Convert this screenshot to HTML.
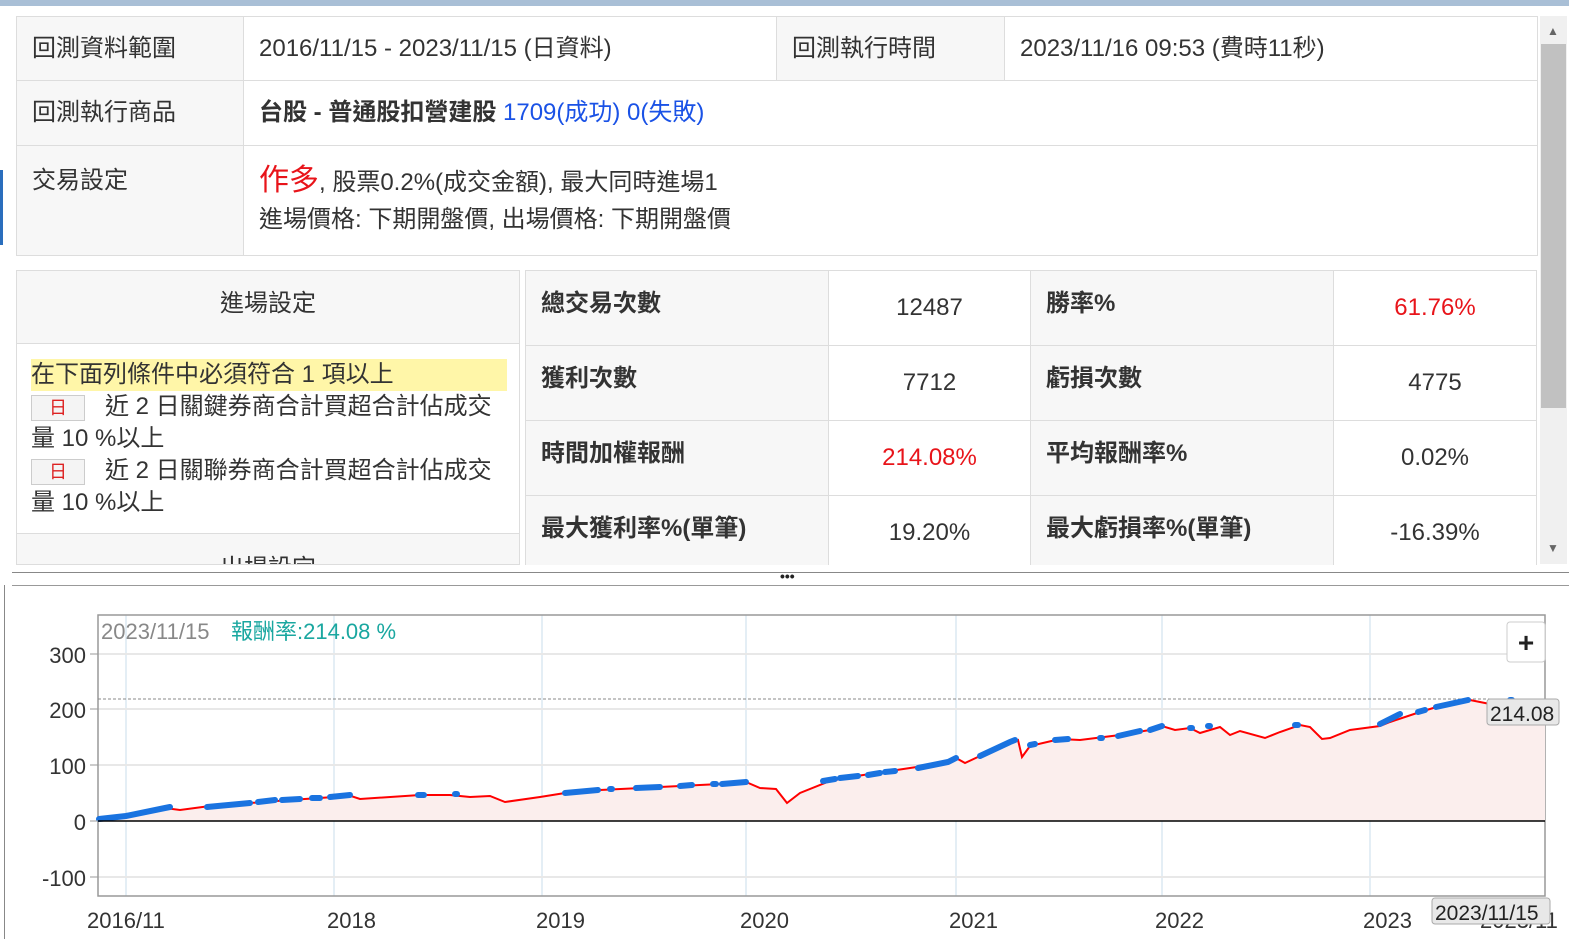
<!DOCTYPE html>
<html><head><meta charset="utf-8"><style>
body{margin:0;width:1569px;height:939px;overflow:hidden;background:#fff;font-family:"Liberation Sans","Noto Sans CJK TC",sans-serif;position:relative;color:#333}
.a{position:absolute;box-sizing:border-box}
.c{position:absolute;box-sizing:border-box;border:1px solid #ddd;font-size:24px;padding-left:15px;white-space:nowrap}
.g{background:#f7f7f7}
</style></head><body>
<div class="a" style="left:0;top:0;width:1569px;height:6px;background:#a9bfd6"></div>
<div class="a" style="left:0;top:170px;width:3px;height:75px;background:#2a6ebd"></div>
<div class="c g" style="left:16px;top:16px;width:228px;height:65px;line-height:64px">回測資料範圍</div>
<div class="c" style="left:243px;top:16px;width:534px;height:65px;line-height:64px">2016/11/15 - 2023/11/15 (日資料)</div>
<div class="c g" style="left:776px;top:16px;width:229px;height:65px;line-height:64px">回測執行時間</div>
<div class="c" style="left:1004px;top:16px;width:534px;height:65px;line-height:64px">2023/11/16 09:53 (費時11秒)</div>
<div class="c g" style="left:16px;top:80px;width:228px;height:66px;line-height:64px">回測執行商品</div>
<div class="c" style="left:243px;top:80px;width:1295px;height:66px;line-height:64px"><b>台股 - 普通股扣營建股</b> <span style="color:#1a52e6">1709(成功) 0(失敗)</span></div>
<div class="c g" style="left:16px;top:145px;width:228px;height:111px;padding-top:14px">交易設定</div>
<div class="c" style="left:243px;top:145px;width:1295px;height:111px;padding-top:16px;line-height:37px"><span style="color:#e8141a;font-size:30px">作多</span>, 股票0.2%(成交金額), 最大同時進場1<br>進場價格: 下期開盤價, 出場價格: 下期開盤價</div>
<div class="a" style="left:16px;top:270px;width:504px;height:295px;border:1px solid #ddd;overflow:hidden">
<div class="a g" style="left:0;top:0;width:502px;height:73px;border-bottom:1px solid #ddd;text-align:center;line-height:66px;font-size:24px">進場設定</div>
<div class="a" style="left:14px;top:88px;width:476px;font-size:24px;line-height:32px;white-space:nowrap"><div style="background:#fff6a8">在下面列條件中必須符合 1 項以上</div>
<span style="display:inline-block;width:52px;height:24px;border:1px solid #ccc;background:#f4f4f4;color:#d22;font-size:18px;text-align:center;line-height:24px;vertical-align:middle;margin-right:20px">日</span>近 2 日關鍵券商合計買超合計佔成交<br>量 10 %以上<br>
<span style="display:inline-block;width:52px;height:24px;border:1px solid #ccc;background:#f4f4f4;color:#d22;font-size:18px;text-align:center;line-height:24px;vertical-align:middle;margin-right:20px">日</span>近 2 日關聯券商合計買超合計佔成交<br>量 10 %以上</div>
<div class="a g" style="left:0;top:262px;width:502px;height:40px;border-top:1px solid #ddd;text-align:center;font-size:24px;padding-top:14px">出場設定</div>
</div>
<div class="a" style="left:525px;top:270px;width:1012px;height:295px;overflow:hidden">
<div class="c g" style="left:0;top:0;width:304px;height:76px;line-height:66px;font-weight:bold">總交易次數</div>
<div class="c" style="left:303px;top:0;width:203px;height:76px;line-height:74px;text-align:center;padding:0">12487</div>
<div class="c g" style="left:505px;top:0;width:304px;height:76px;line-height:66px;font-weight:bold">勝率%</div>
<div class="c" style="left:808px;top:0;width:204px;height:76px;line-height:74px;text-align:center;padding:0;color:#e8141a">61.76%</div>
<div class="c g" style="left:0;top:75px;width:304px;height:76px;line-height:66px;font-weight:bold">獲利次數</div>
<div class="c" style="left:303px;top:75px;width:203px;height:76px;line-height:74px;text-align:center;padding:0">7712</div>
<div class="c g" style="left:505px;top:75px;width:304px;height:76px;line-height:66px;font-weight:bold">虧損次數</div>
<div class="c" style="left:808px;top:75px;width:204px;height:76px;line-height:74px;text-align:center;padding:0">4775</div>
<div class="c g" style="left:0;top:150px;width:304px;height:76px;line-height:66px;font-weight:bold">時間加權報酬</div>
<div class="c" style="left:303px;top:150px;width:203px;height:76px;line-height:74px;text-align:center;padding:0;color:#e8141a">214.08%</div>
<div class="c g" style="left:505px;top:150px;width:304px;height:76px;line-height:66px;font-weight:bold">平均報酬率%</div>
<div class="c" style="left:808px;top:150px;width:204px;height:76px;line-height:74px;text-align:center;padding:0">0.02%</div>
<div class="c g" style="left:0;top:225px;width:304px;height:76px;line-height:66px;font-weight:bold">最大獲利率%(單筆)</div>
<div class="c" style="left:303px;top:225px;width:203px;height:76px;line-height:74px;text-align:center;padding:0">19.20%</div>
<div class="c g" style="left:505px;top:225px;width:304px;height:76px;line-height:66px;font-weight:bold">最大虧損率%(單筆)</div>
<div class="c" style="left:808px;top:225px;width:204px;height:76px;line-height:74px;text-align:center;padding:0">-16.39%</div>
</div>
<div class="a" style="left:1540px;top:16px;width:27px;height:548px;background:#f0f0f0"></div>
<div class="a" style="left:1541px;top:44px;width:25px;height:364px;background:#c1c1c1"></div>
<div class="a" style="left:1547px;top:24px;font-size:12px;color:#666">▲</div>
<div class="a" style="left:1547px;top:541px;font-size:12px;color:#666">▼</div>
<div class="a" style="left:12px;top:572px;width:1557px;height:1px;background:#888"></div>
<div class="a" style="left:12px;top:585px;width:1557px;height:1px;background:#999"></div>
<div class="a" style="left:780px;top:568px;font-size:14px;font-weight:bold;color:#222">•••</div>
<div class="a" style="left:4px;top:585px;width:1px;height:354px;background:#888"></div>
<svg class="a" style="left:0;top:0" width="1569" height="939">
<g stroke="#dce9f2" stroke-width="1.5"><line x1="126" y1="615" x2="126" y2="896"/><line x1="334" y1="615" x2="334" y2="896"/><line x1="542" y1="615" x2="542" y2="896"/><line x1="746" y1="615" x2="746" y2="896"/><line x1="956" y1="615" x2="956" y2="896"/><line x1="1162" y1="615" x2="1162" y2="896"/><line x1="1370" y1="615" x2="1370" y2="896"/></g>
<g stroke="#e8e8e8" stroke-width="2"><line x1="98" y1="654" x2="1545" y2="654"/><line x1="98" y1="709" x2="1545" y2="709"/><line x1="98" y1="765" x2="1545" y2="765"/><line x1="98" y1="877" x2="1545" y2="877"/></g>
<rect x="98" y="615" width="1447" height="281" fill="none" stroke="#999" stroke-width="1.5"/>
<line x1="98" y1="699" x2="1545" y2="699" stroke="#888" stroke-dasharray="3,2"/>
<path d="M98,819 L126,816 165,808 180,810 210,806 250,803 290,800 334,797 345,794 360,799 420,795 450,795 470,797 490,796 505,802 540,797 565,793 600,790 640,788 680,786 720,784 746,782 760,788 776,789 787,803 800,793 830,781 850,777 890,771 930,765 956,758 965,763 980,756 1010,742 1018,740 1022,757 1030,746 1060,739 1080,740 1120,735 1150,730 1162,726 1175,730 1190,728 1200,733 1220,727 1230,735 1240,731 1265,738 1280,732 1300,725 1310,727 1322,739 1330,738 1350,730 1380,726 1390,722 1420,712 1440,706 1455,702 1470,700 1490,704 1545,702 L1545,821 L98,821 Z" fill="#fbeeed"/>
<path d="M98,819 L126,816 165,808 180,810 210,806 250,803 290,800 334,797 345,794 360,799 420,795 450,795 470,797 490,796 505,802 540,797 565,793 600,790 640,788 680,786 720,784 746,782 760,788 776,789 787,803 800,793 830,781 850,777 890,771 930,765 956,758 965,763 980,756 1010,742 1018,740 1022,757 1030,746 1060,739 1080,740 1120,735 1150,730 1162,726 1175,730 1190,728 1200,733 1220,727 1230,735 1240,731 1265,738 1280,732 1300,725 1310,727 1322,739 1330,738 1350,730 1380,726 1390,722 1420,712 1440,706 1455,702 1470,700 1490,704" fill="none" stroke="#f00" stroke-width="2"/>
<g fill="none" stroke="#1a73e0" stroke-width="6" stroke-linecap="round">
<path d="M99,819 L126,816 165,808 170,807"/><path d="M207,807 L250,803"/><path d="M258,802 L275,800"/><path d="M282,800 L300,799"/><path d="M312,798 L320,798"/><path d="M330,797 L350,795"/><path d="M418,795 L424,795"/><path d="M455,794 L457,794"/><path d="M565,793 L598,790"/><path d="M610,789 L612,789"/><path d="M636,788 L660,787"/><path d="M680,786 L692,785"/><path d="M713,784 L716,784"/><path d="M722,784 L746,782"/>
<path d="M823,781 L835,779"/><path d="M840,778 L858,776"/><path d="M868,775 L880,773"/><path d="M885,772 L895,771"/><path d="M918,768 L948,762 956,758"/><path d="M980,756 L1010,742 1015,740"/><path d="M1030,745 L1035,744"/><path d="M1055,740 L1068,739"/><path d="M1100,738 L1102,738"/><path d="M1118,736 L1140,731"/><path d="M1150,730 L1162,726"/><path d="M1190,728 L1192,728"/><path d="M1208,726 L1210,726"/><path d="M1295,725 L1298,725"/><path d="M1380,724 L1400,714"/><path d="M1418,712 L1425,710"/><path d="M1436,707 L1468,700"/><path d="M1510,700 L1512,700"/>
</g>
<line x1="98" y1="821" x2="1545" y2="821" stroke="#000" stroke-width="1.5"/>
<g font-size="22" fill="#333" text-anchor="end" font-family="Liberation Sans"><text x="86" y="663">300</text><text x="86" y="718">200</text><text x="86" y="774">100</text><text x="86" y="830">0</text><text x="86" y="886">-100</text></g>
<g stroke="#999"><line x1="90" y1="654" x2="98" y2="654"/><line x1="90" y1="709" x2="98" y2="709"/><line x1="90" y1="765" x2="98" y2="765"/><line x1="90" y1="821" x2="98" y2="821"/><line x1="90" y1="877" x2="98" y2="877"/></g>
<g font-size="22" fill="#333" font-family="Liberation Sans"><text x="87" y="928">2016/11</text><text x="327" y="928">2018</text><text x="536" y="928">2019</text><text x="740" y="928">2020</text><text x="949" y="928">2021</text><text x="1155" y="928">2022</text><text x="1363" y="928">2023</text><text x="1480" y="928">2023/11</text></g>
<text x="101" y="639" font-size="22" fill="#888" font-family="Liberation Sans">2023/11/15</text>
<text x="231" y="639" font-size="22" fill="#1aa7a0" font-family="Liberation Sans,Noto Sans CJK TC">報酬率:214.08 %</text>
<rect x="1487" y="699" width="72" height="26" rx="3" fill="#e8e8e8" stroke="#aaa"/>
<text x="1490" y="721" font-size="21" fill="#222" font-family="Liberation Sans">214.08</text>
<rect x="1432" y="898" width="118" height="26" rx="3" fill="#e8e8e8" stroke="#aaa"/>
<text x="1435" y="920" font-size="21" fill="#222" font-family="Liberation Sans">2023/11/15</text>
<rect x="1507" y="622" width="38" height="40" rx="3" fill="#fff" stroke="#ccc"/>
<text x="1526" y="652" font-size="28" font-weight="bold" text-anchor="middle" fill="#222" font-family="Liberation Sans">+</text>
</svg>
</body></html>
